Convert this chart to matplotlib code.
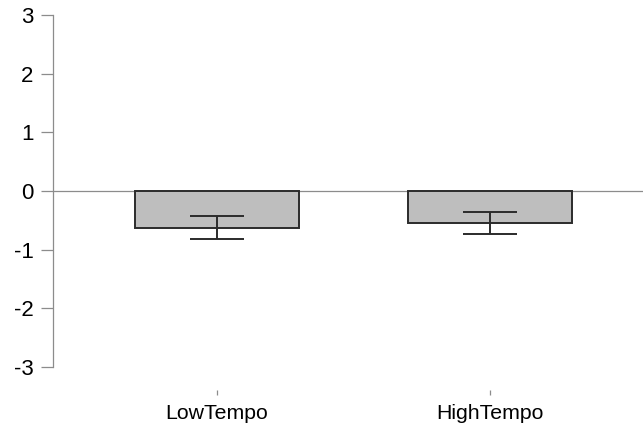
import matplotlib
matplotlib.use("Agg")
import matplotlib.pyplot as plt

categories = ["LowTempo", "HighTempo"]
means = [-0.625, -0.543]
errors = [0.195, 0.193]
yticks = [-3, -2, -1, 0, 1, 2, 3]

plt.rcParams['font.family'] = ['Liberation Sans', 'DejaVu Sans']

W, H = 643, 430
fig = plt.figure(figsize=(W/100, H/100), dpi=100)
ax = fig.add_axes([53/W, (H-367)/H, (W-53)/W, (367-15)/H])

for s in ["top", "right"]:
    ax.spines[s].set_visible(False)
ax.spines["left"].set_color("#8c8c8c")
ax.spines["left"].set_linewidth(0.9)
ax.spines["bottom"].set_position(("outward", 16.5))
ax.spines["bottom"].set_visible(False)

x = list(range(len(categories)))
ax.bar(x, means, width=0.6, color="#bebebe", edgecolor="#2b2b2b", linewidth=1.4, zorder=2)
ax.errorbar(x, means, yerr=errors, fmt="none", ecolor="#2b2b2b", elinewidth=1.4,
            capsize=19.5, capthick=1.4, zorder=3)
ax.axhline(0, color="#8c8c8c", linewidth=0.9, zorder=1)

ax.set_xlim(-0.6, 1.56)
ax.set_ylim(-3, 3)
ax.set_yticks(yticks)
ax.set_yticklabels([str(v) for v in yticks])
ax.set_xticks(x)
ax.set_xticklabels(categories)

ax.tick_params(axis="y", length=8.5, width=0.9, color="#8c8c8c", pad=5.5, labelcolor="black", labelsize=16)
ax.tick_params(axis="x", length=3.8, width=0.9, color="#8c8c8c", pad=6.5, labelcolor="black", labelsize=15.3)

fig.savefig("out.png", dpi=100)
